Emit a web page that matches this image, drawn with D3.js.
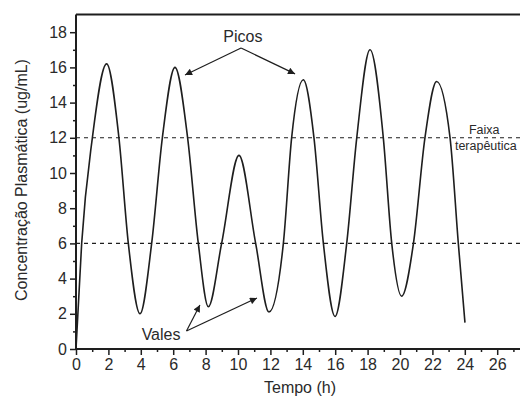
<!DOCTYPE html>
<html>
<head>
<meta charset="utf-8">
<script src="https://cdn.jsdelivr.net/npm/d3@7"></script>
<style>
  html, body { margin: 0; padding: 0; background: #fff; }
  svg { display: block; font-family: "Liberation Sans", Arial, sans-serif; }
</style>
</head>
<body>
<svg id="chart" width="520" height="400"></svg>
<script>
// ---- data ----
const timeH = [0, 0.35, 1.01, 1.89, 2.65, 3.23, 3.95, 4.67, 5.33, 6.11, 6.89, 7.55, 8.17, 8.99,
               10.06, 11.09, 11.91, 12.8, 13.31, 14.03, 14.69, 15.27, 15.99, 16.71, 17.33, 18.15,
               18.97, 19.49, 20.1, 20.83, 21.54, 22.26, 23.09, 23.6, 24.01];
const concentration = [0, 6, 12, 16.2, 12, 6, 2.0, 6, 12, 16.0, 12, 6, 2.4, 6,
                       11.0, 6, 2.1, 6, 12, 15.3, 12, 6, 1.85, 6, 12, 17.0,
                       12, 6, 3.0, 6, 12, 15.2, 12, 6, 1.5];
const therapeuticLimits = [6, 12];
const xTickValues = [0, 2, 4, 6, 8, 10, 12, 14, 16, 18, 20, 22, 24, 26];
const yTickValues = [0, 2, 4, 6, 8, 10, 12, 14, 16, 18];
const xLabel = "Tempo (h)";
const yLabel = "Concentração Plasmática (ug/mL)";
// annotations (data units)
const picosText = {label: "Picos", x: 10.3, y: 17.45};
const picosArrows = [{x0: 10.19, y0: 17.1, x1: 6.73, y1: 15.57}, {x0: 10.19, y0: 17.1, x1: 13.52, y1: 15.63}];
const valesText = {label: "Vales", x: 5.25, y: 0.5};
const valesArrows = [{x0: 6.82, y0: 1.02, x1: 7.65, y1: 2.5}, {x0: 6.82, y0: 1.02, x1: 11.17, y1: 2.9}];
const faixaText = [{label: "Faixa", x: 25.2, y: 12.2}, {label: "terapêutica", x: 25.3, y: 11.3}];

// ---- layout ----
const svg = d3.select("#chart");
const mLeft = 76, mTop = 14.6, mBottom = 349;
const x = d3.scaleLinear().domain([0, 28]).range([mLeft, mLeft + 28 * 16.2]);
const y = d3.scaleLinear().domain([0, 19]).range([mBottom, mTop]);
const ink = "#1e1e1e";

// defs
svg.append("defs").append("marker")
  .attr("id", "arrow").attr("viewBox", "0 0 10 10").attr("refX", 10).attr("refY", 5)
  .attr("markerWidth", 9).attr("markerHeight", 7).attr("markerUnits", "userSpaceOnUse")
  .attr("orient", "auto")
  .append("path").attr("d", "M0,0 L10,5 L0,10 Z").attr("fill", ink);

// reference dashed lines
svg.append("g").selectAll("line").data(therapeuticLimits).join("line")
  .attr("x1", x(0)).attr("x2", 520)
  .attr("y1", d => y(d)).attr("y2", d => y(d))
  .attr("stroke", ink).attr("stroke-width", 1.1).attr("stroke-dasharray", "4,4");

// curve
const pts = timeH.map((t, i) => [t, concentration[i]]);
svg.append("path").datum(pts)
  .attr("fill", "none").attr("stroke", ink).attr("stroke-width", 1.6)
  .attr("d", d3.line().x(d => x(d[0])).y(d => y(d[1])).curve(d3.curveMonotoneX));

// axes
const xAxis = svg.append("g").attr("transform", `translate(0,${mBottom})`)
  .call(d3.axisBottom(x).tickValues(xTickValues).tickSize(6).tickPadding(4).tickFormat(d3.format("d")));
const xMinor = svg.append("g").attr("transform", `translate(0,${mBottom})`)
  .call(d3.axisBottom(x).tickValues(d3.range(1, 28, 2)).tickSize(3).tickFormat(""));
const yAxis = svg.append("g").attr("transform", `translate(${mLeft},0)`)
  .call(d3.axisLeft(y).tickValues(yTickValues).tickSize(6).tickPadding(3).tickFormat(d3.format("d")));
const yMinor = svg.append("g").attr("transform", `translate(${mLeft},0)`)
  .call(d3.axisLeft(y).tickValues(d3.range(1, 19, 2)).tickSize(3).tickFormat(""));
[xAxis, xMinor, yAxis, yMinor].forEach(g => {
  g.select(".domain").remove();
  g.selectAll("line").attr("stroke", ink).attr("stroke-width", 1.5);
  g.selectAll("text").attr("fill", "#2a2a2a").attr("font-size", 16)
    .attr("font-family", "'Liberation Sans', Arial, sans-serif");
});
xAxis.selectAll("text").attr("dy", "0.71em");

// frame lines
svg.append("line").attr("x1", mLeft).attr("x2", 520).attr("y1", mBottom).attr("y2", mBottom)
  .attr("stroke", ink).attr("stroke-width", 2);
svg.append("line").attr("x1", mLeft).attr("x2", mLeft).attr("y1", y(19)).attr("y2", mBottom + 1)
  .attr("stroke", ink).attr("stroke-width", 2);
svg.append("line").attr("x1", mLeft).attr("x2", 520).attr("y1", y(19)).attr("y2", y(19))
  .attr("stroke", ink).attr("stroke-width", 2);

// axis titles
svg.append("text").attr("x", 300).attr("y", 393).attr("text-anchor", "middle")
  .attr("font-size", 16).attr("fill", "#2a2a2a").text(xLabel);
svg.append("text").attr("transform", "translate(27,180) rotate(-90)").attr("text-anchor", "middle")
  .attr("font-size", 16).attr("fill", "#2a2a2a").text(yLabel);

// annotations
svg.append("text").attr("x", x(picosText.x)).attr("y", y(picosText.y)).attr("text-anchor", "middle")
  .attr("font-size", 16).attr("fill", "#2a2a2a").text(picosText.label);
svg.append("text").attr("x", x(valesText.x)).attr("y", y(valesText.y)).attr("text-anchor", "middle")
  .attr("font-size", 16).attr("fill", "#2a2a2a").text(valesText.label);
svg.append("g").selectAll("line").data(picosArrows.concat(valesArrows)).join("line")
  .attr("x1", d => x(d.x0)).attr("y1", d => y(d.y0))
  .attr("x2", d => x(d.x1)).attr("y2", d => y(d.y1))
  .attr("stroke", ink).attr("stroke-width", 1.2).attr("marker-end", "url(#arrow)");
svg.append("g").selectAll("text").data(faixaText).join("text")
  .attr("x", d => x(d.x)).attr("y", d => y(d.y)).attr("text-anchor", "middle")
  .attr("font-size", 12.5).attr("fill", "#2a2a2a").text(d => d.label);
</script>
</body>
</html>
